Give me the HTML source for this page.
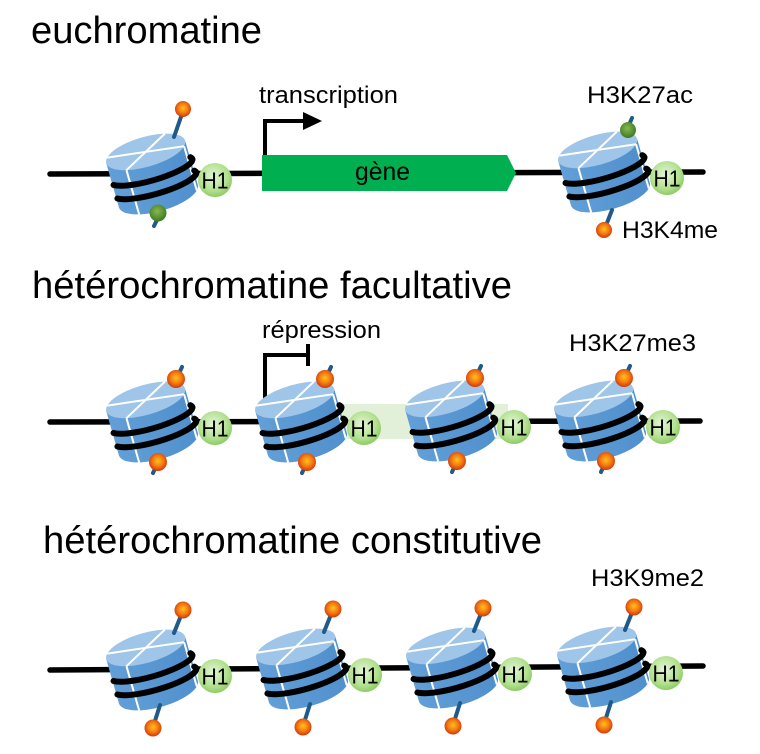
<!DOCTYPE html>
<html><head><meta charset="utf-8"><style>
html,body{margin:0;padding:0;background:#fff;}
svg{display:block;}
text{font-family:"Liberation Sans",Arial,sans-serif;fill:#000;}
</style></head><body>
<svg width="760" height="754" viewBox="0 0 760 754" xmlns="http://www.w3.org/2000/svg">
<defs>
<radialGradient id="org" cx="50%" cy="45%" r="55%">
<stop offset="0" stop-color="#ffc21a"/><stop offset="0.55" stop-color="#f47a12"/><stop offset="1" stop-color="#d2380a"/>
</radialGradient>
<radialGradient id="grn" cx="45%" cy="40%" r="60%">
<stop offset="0" stop-color="#86b850"/><stop offset="1" stop-color="#3f7a22"/>
</radialGradient>
<radialGradient id="h1g" cx="45%" cy="40%" r="60%">
<stop offset="0" stop-color="#e4f5d8"/><stop offset="0.7" stop-color="#b2e08e"/><stop offset="1" stop-color="#8ecb66"/>
</radialGradient>
<linearGradient id="side" x1="0" y1="0" x2="1" y2="0">
<stop offset="0" stop-color="#629fd8"/><stop offset="1" stop-color="#4f8fcc"/>
</linearGradient>
<g id="nuc">
<g transform="rotate(-16)">
<path d="M -41 -23 L -41 23 A 41 15 0 0 0 41 23 L 41 -23 Z" fill="url(#side)"/>
<ellipse cx="0" cy="-23" rx="41" ry="15" fill="#9fc5e8"/>
<g stroke="#fff" stroke-width="2" fill="none">
<path d="M -23.5 -10.7 L 23.5 -35.3"/>
<path d="M -38.5 -28.1 L 38.5 -17.9"/>
<path d="M -23.5 -10.7 L -23.5 35.3"/>
<path d="M 38.5 -17.9 L 38.5 28.1"/>
</g>
<g stroke="#000" stroke-width="6" fill="none" stroke-linecap="round">
<path d="M -40 0 A 43 10 0 0 0 43 -3 A 43 10 0 0 0 41.5 -5.6"/>
<path d="M -40 14 A 43 10 0 0 0 43 11 A 43 10 0 0 0 41.5 8.4"/>
</g>
</g>
<circle cx="63" cy="6" r="17" fill="url(#h1g)"/>
<text x="63" y="14.5" font-size="23" text-anchor="middle" textLength="27" lengthAdjust="spacingAndGlyphs">H1</text>
</g>
</defs>

<!-- Titles -->
<text x="31" y="43" font-size="38" textLength="231" lengthAdjust="spacingAndGlyphs">euchromatine</text>
<text x="32" y="298" font-size="38" textLength="480" lengthAdjust="spacingAndGlyphs">hétérochromatine facultative</text>
<text x="43" y="553" font-size="38" textLength="499" lengthAdjust="spacingAndGlyphs">hétérochromatine constitutive</text>

<!-- ROW 1 -->
<line x1="50" y1="174" x2="703" y2="172" stroke="#000" stroke-width="5.5" stroke-linecap="round"/>
<polygon points="262,155 507,155 516,173 507,191 262,191" fill="#00b050"/>
<text x="355" y="180" font-size="25" textLength="55" lengthAdjust="spacingAndGlyphs">gène</text>
<path d="M 265 155 V 121 H 306" stroke="#000" stroke-width="4" fill="none"/>
<polygon points="303,112 322,121 303,130" fill="#000"/>
<text x="259" y="103" font-size="24" textLength="139" lengthAdjust="spacingAndGlyphs">transcription</text>
<text x="587" y="103" font-size="24" textLength="106" lengthAdjust="spacingAndGlyphs">H3K27ac</text>
<text x="622" y="238" font-size="24" textLength="96" lengthAdjust="spacingAndGlyphs">H3K4me</text>

<use href="#nuc" x="152" y="174"/>
<g stroke="#1f5a8a" stroke-width="4" stroke-linecap="round">
<line x1="174" y1="137" x2="182" y2="114"/>
<line x1="160" y1="214" x2="154" y2="226"/>
</g>
<circle cx="183" cy="109" r="8" fill="url(#org)"/>
<circle cx="158" cy="213" r="8.5" fill="url(#grn)"/>

<use href="#nuc" x="604" y="172"/>
<g stroke="#1f5a8a" stroke-width="4" stroke-linecap="round">
<line x1="626" y1="132" x2="632" y2="118"/>
<line x1="612" y1="210" x2="605" y2="228"/>
</g>
<circle cx="628" cy="130" r="8" fill="url(#grn)"/>
<circle cx="604" cy="230" r="8" fill="url(#org)"/>

<!-- ROW 2 -->
<line x1="50" y1="422" x2="700" y2="421" stroke="#000" stroke-width="5.5" stroke-linecap="round"/>
<rect x="340" y="404" width="168" height="35" fill="#e2f0d9"/>
<path d="M 265 400 V 355 H 308" stroke="#000" stroke-width="4" fill="none"/>
<line x1="308" y1="344" x2="308" y2="366" stroke="#000" stroke-width="4"/>
<text x="262" y="338" font-size="24" textLength="119" lengthAdjust="spacingAndGlyphs">répression</text>
<text x="569" y="351" font-size="24" textLength="127" lengthAdjust="spacingAndGlyphs">H3K27me3</text>

<use href="#nuc" x="152" y="422"/>
<use href="#nuc" x="301" y="422"/>
<use href="#nuc" x="451" y="421"/>
<use href="#nuc" x="600" y="421"/>
<g stroke="#1f5a8a" stroke-width="4" stroke-linecap="round">
<line x1="176" y1="380" x2="182" y2="367"/><line x1="158" y1="462" x2="153" y2="473"/>
<line x1="325" y1="380" x2="331" y2="367"/><line x1="307" y1="462" x2="302" y2="473"/>
<line x1="475" y1="379" x2="481" y2="366"/><line x1="457" y1="461" x2="452" y2="472"/>
<line x1="624" y1="379" x2="630" y2="366"/><line x1="606" y1="461" x2="601" y2="472"/>
</g>
<circle cx="176" cy="379" r="9" fill="url(#org)"/><circle cx="158" cy="462" r="9" fill="url(#org)"/>
<circle cx="325" cy="379" r="9" fill="url(#org)"/><circle cx="307" cy="462" r="9" fill="url(#org)"/>
<circle cx="475" cy="378" r="9" fill="url(#org)"/><circle cx="457" cy="461" r="9" fill="url(#org)"/>
<circle cx="624" cy="378" r="9" fill="url(#org)"/><circle cx="606" cy="461" r="9" fill="url(#org)"/>

<!-- ROW 3 -->
<line x1="50" y1="670" x2="703" y2="666" stroke="#000" stroke-width="5.5" stroke-linecap="round"/>
<text x="591" y="586" font-size="24" textLength="113" lengthAdjust="spacingAndGlyphs">H3K9me2</text>

<use href="#nuc" x="152" y="670"/>
<use href="#nuc" x="302" y="669"/>
<use href="#nuc" x="452" y="668"/>
<use href="#nuc" x="603" y="667"/>
<g stroke="#1f5a8a" stroke-width="4" stroke-linecap="round">
<line x1="174" y1="633" x2="182" y2="613"/><line x1="160" y1="705" x2="154" y2="724"/>
<line x1="324" y1="632" x2="332" y2="612"/><line x1="310" y1="704" x2="304" y2="723"/>
<line x1="474" y1="631" x2="482" y2="611"/><line x1="460" y1="703" x2="454" y2="722"/>
<line x1="625" y1="630" x2="633" y2="610"/><line x1="611" y1="702" x2="605" y2="721"/>
</g>
<circle cx="183" cy="610" r="8.5" fill="url(#org)"/><circle cx="153" cy="728" r="8.5" fill="url(#org)"/>
<circle cx="333" cy="609" r="8.5" fill="url(#org)"/><circle cx="303" cy="727" r="8.5" fill="url(#org)"/>
<circle cx="483" cy="608" r="8.5" fill="url(#org)"/><circle cx="453" cy="726" r="8.5" fill="url(#org)"/>
<circle cx="634" cy="607" r="8.5" fill="url(#org)"/><circle cx="604" cy="725" r="8.5" fill="url(#org)"/>
</svg>
</body></html>
